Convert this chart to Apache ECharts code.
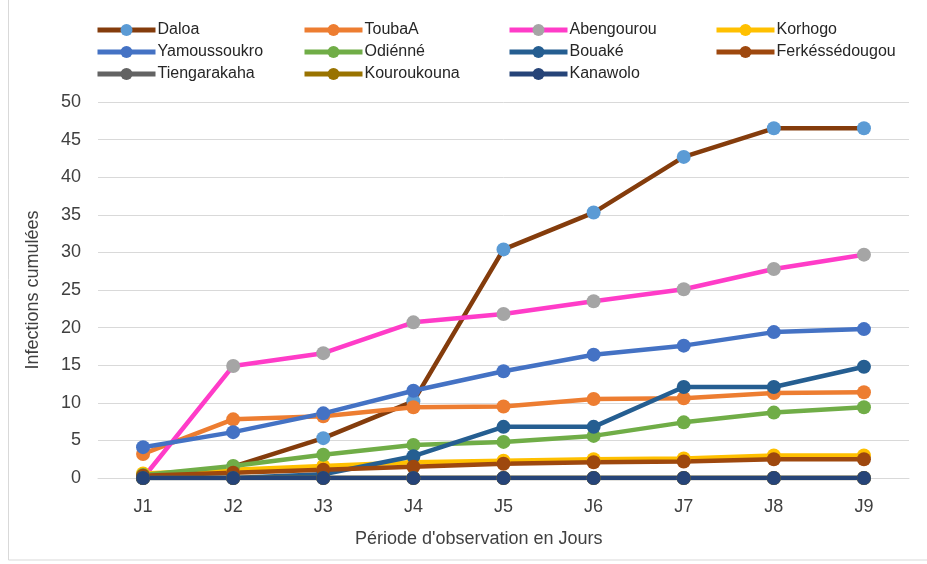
<!DOCTYPE html>
<html>
<head>
<meta charset="utf-8">
<script src="https://cdn.jsdelivr.net/npm/echarts@6/dist/echarts.min.js"></script>
<style>
  html, body { margin: 0; padding: 0; background: #ffffff; }
  #chart { width: 927px; height: 564px; }
</style>
</head>
<body>
<div id="chart"></div>
<script>
// Observation days
const days = ['J1', 'J2', 'J3', 'J4', 'J5', 'J6', 'J7', 'J8', 'J9'];
const yTicks = [0, 5, 10, 15, 20, 25, 30, 35, 40, 45, 50];

// Cumulative infections per locality
const daloa         = [0, 1.5, 5.3, 10.2, 30.4, 35.3, 42.7, 46.5, 46.5];
const toubaA        = [3.2, 7.8, 8.2, 9.4, 9.5, 10.5, 10.6, 11.3, 11.4];
const abengourou    = [0, 14.9, 16.6, 20.7, 21.8, 23.5, 25.1, 27.8, 29.7];
const korhogo       = [0.6, 1.1, 1.6, 2.1, 2.3, 2.5, 2.6, 3.0, 3.0];
const yamoussoukro  = [4.1, 6.1, 8.6, 11.6, 14.2, 16.4, 17.6, 19.4, 19.8];
const odienne       = [0.4, 1.6, 3.1, 4.4, 4.8, 5.6, 7.4, 8.7, 9.4];
const bouake        = [0, 0, 0.5, 2.9, 6.8, 6.8, 12.1, 12.1, 14.8];
const ferkessedougou= [0.3, 0.7, 1.1, 1.5, 1.9, 2.1, 2.2, 2.5, 2.5];
const tiengarakaha  = [0, 0, 0, 0, 0, 0, 0, 0, 0];
const kouroukouna   = [0, 0, 0, 0, 0, 0, 0, 0, 0];
const kanawolo      = [0, 0, 0, 0, 0, 0, 0, 0, 0];

const FONT = '"Liberation Sans", Arial, sans-serif';

function line(name, data, lineColor, markerColor) {
  return {
    name: name,
    type: 'line',
    data: data,
    symbol: 'circle',
    symbolSize: 14,
    lineStyle: { width: 4.5, color: lineColor },
    itemStyle: { color: markerColor || lineColor },
    emphasis: { disabled: true },
    animation: false
  };
}

const series = [
  line('Daloa', daloa, '#843C0C', '#5B9BD5'),
  line('ToubaA', toubaA, '#ED7D31'),
  line('Abengourou', abengourou, '#FF3CC8', '#A5A5A5'),
  line('Korhogo', korhogo, '#FFC000'),
  line('Yamoussoukro', yamoussoukro, '#4472C4'),
  line('Odiénné', odienne, '#70AD47'),
  line('Bouaké', bouake, '#255E91'),
  line('Ferkéssédougou', ferkessedougou, '#9E480E'),
  line('Tiengarakaha', tiengarakaha, '#636363'),
  line('Kouroukouna', kouroukouna, '#997300'),
  line('Kanawolo', kanawolo, '#264478')
];

// Four legend columns, filled row by row
const legendCols = [
  { left: 95,  names: ['Daloa', 'Yamoussoukro', 'Tiengarakaha'] },
  { left: 302, names: ['ToubaA', 'Odiénné', 'Kouroukouna'] },
  { left: 507, names: ['Abengourou', 'Bouaké', 'Kanawolo'] },
  { left: 714, names: ['Korhogo', 'Ferkéssédougou'] }
];

const legends = legendCols.map(c => ({
  orient: 'vertical',
  left: c.left,
  top: 22,
  data: c.names,
  itemWidth: 58,
  itemHeight: 15,
  itemGap: 6,
  padding: 0,
  selectedMode: false,
  lineStyle: { width: 5 },
  textStyle: { fontFamily: FONT, fontSize: 16, lineHeight: 15, color: '#262626', padding: [0, 0, 0, -3] }
}));

const chart = echarts.init(document.getElementById('chart'), null, { renderer: 'canvas' });
chart.setOption({
  backgroundColor: '#ffffff',
  animation: false,
  legend: legends,
  grid: { left: 98, right: 18, top: 102, bottom: 86 },
  xAxis: {
    type: 'category',
    data: days,
    boundaryGap: true,
    axisLine: { show: true, lineStyle: { color: '#d9d9d9', width: 1 } },
    axisTick: { show: false },
    axisLabel: { fontFamily: FONT, fontSize: 18, color: '#404040', margin: 20 }
  },
  yAxis: {
    type: 'value',
    min: yTicks[0],
    max: yTicks[yTicks.length - 1],
    interval: 5,
    axisLine: { show: false },
    axisTick: { show: false },
    splitLine: { lineStyle: { color: '#d9d9d9', width: 1 } },
    axisLabel: { fontFamily: FONT, fontSize: 18, color: '#404040', margin: 17 },
    name: 'Infections cumulées',
    nameLocation: 'middle',
    nameGap: 56,
    nameTextStyle: { fontFamily: FONT, fontSize: 18, color: '#404040' }
  },
  graphic: [
    {
      type: 'rect',
      silent: true,
      shape: { x: 8.5, y: -1, width: 940, height: 561 },
      style: { fill: 'none', stroke: '#d9d9d9', lineWidth: 1 }
    },
    {
      type: 'text',
      silent: true,
      left: 479 - 124,
      top: 530,
      style: { text: "Période d'observation en Jours", fontFamily: FONT, fontSize: 18, fill: '#404040' }
    }
  ],
  series: series
});
</script>
</body>
</html>
